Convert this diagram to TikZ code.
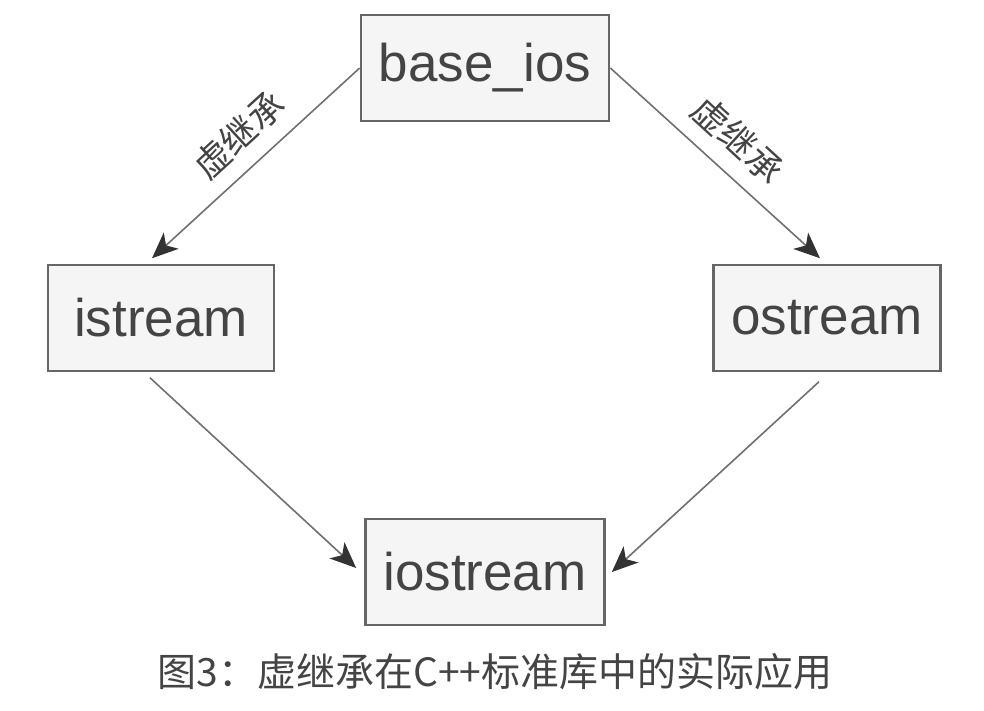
\documentclass[tikz,border=0pt]{standalone}
\usepackage{fontspec}
\setmainfont{Liberation Sans}
\newfontfamily\cjk{Noto Sans CJK SC}
\usetikzlibrary{arrows.meta}
\definecolor{boxfill}{HTML}{F5F5F5}
\definecolor{boxline}{HTML}{666666}
\definecolor{linkline}{HTML}{707070}
\definecolor{tipgray}{HTML}{333333}
\definecolor{textgray}{HTML}{444444}

\begin{document}
\begin{tikzpicture}[x=1pt,y=1pt,
        box/.style={draw=boxline,line width=2.5pt,fill=boxfill,text=textgray,
                minimum width=226pt,minimum height=106pt,inner xsep=18pt,
                font=\fontsize{53}{60}\selectfont},
        link/.style={draw=linkline,line width=1.6pt,
                -{Stealth[length=26pt,width=22pt,inset=7pt,fill=tipgray,color=tipgray]}},
        tag/.style={text=textgray,inner sep=1pt,font=\cjk\fontsize{36}{40}\selectfont}]
        \useasboundingbox (0,0) rectangle (984,710);
        %\draw[red] (0,0) rectangle (984,710);

        \node [box] (baseios) at (485,642) {base\_ios};
        \node [box] (istream) at (161,392) {istream};
        \node [box] (ostream) at (827,392) {ostream};
        \node [box] (iostream) at (485,138) {iostream};

        \draw [link] (baseios.west) -- ([shift={(-9,5.5)}]istream.north);
        \draw [link] (baseios.east) -- ([shift={(-7,5.5)}]ostream.north);
        \draw [link] ([shift={(-11,-5.5)}]istream.south) -- ([shift={(-8,4)}]iostream.west);
        \draw [link] ([shift={(-8,-9.5)}]ostream.south) -- ([shift={(6,0)}]iostream.east);

        \node [tag,rotate=42.5] (lblleft) at (239,575) {虚继承};
        \node [tag,rotate=-42.5] (lblright) at (738,570) {虚继承};

        \node [text=textgray,font=\cjk\fontsize{39}{44}\selectfont] (caption) at (495,38) {图3：虚继承在C++标准库中的实际应用};
\end{tikzpicture}
\end{document}
